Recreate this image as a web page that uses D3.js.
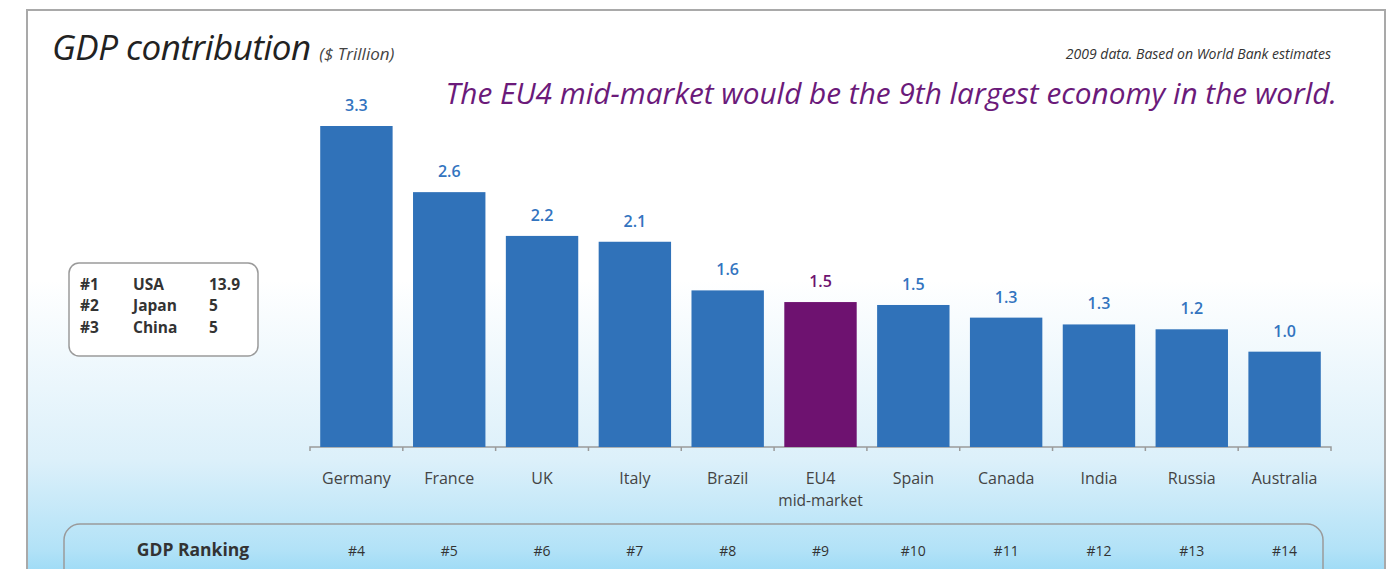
<!DOCTYPE html>
<html>
<head>
<meta charset="utf-8">
<script src="https://cdn.jsdelivr.net/npm/d3@7"></script>
<style>
	body { margin: 0; background: #fff; font-family: "Open Sans", sans-serif; }
	svg { display: block; }
</style>
</head>
<body>
<div id="graphicContainer"></div>
<script>

var countries = ["Germany", "France", "UK", "Italy", "Brazil", "EU4\nmid-market", "Spain", "Canada", "India", "Russia", "Australia"]
var gdp = [3.30, 2.62, 2.17, 2.11, 1.61, 1.49, 1.46, 1.33, 1.26, 1.21, 0.98]
var rankings = ["#4", "#5", "#6", "#7", "#8", "#9", "#10", "#11", "#12", "#13", "#14"]
var topRanks = ["#1", "#2", "#3"]
var topCountries = ["USA", "Japan", "China"]
var topGdp = ["13.9", "5", "5"]

var width = 1396
var height = 569

var svg = d3.select("#graphicContainer").append("svg")
	.attr("width", width)
	.attr("height", height)

var defs = svg.append("defs")
var bg = defs.append("linearGradient")
	.attr("id", "bgGradient")
	.attr("x1", "0%").attr("y1", "0%")
	.attr("x2", "0%").attr("y2", "100%")

bg.append("stop").attr("offset", "0%").attr("stop-color", "#ffffff")
bg.append("stop").attr("offset", "45%").attr("stop-color", "#ffffff")
bg.append("stop").attr("offset", "75%").attr("stop-color", "#dcf0fa")
bg.append("stop").attr("offset", "90%").attr("stop-color", "#b2e2f7")
bg.append("stop").attr("offset", "100%").attr("stop-color", "#7ccff4")

// frame
svg.append("rect")
	.attr("x", 27).attr("y", 10)
	.attr("width", 1358).attr("height", 600)
	.attr("fill", "url(#bgGradient)")
	.attr("stroke", "#a9a9a9")
	.attr("stroke-width", 2)

// titles
var title = svg.append("text")
	.attr("x", 52).attr("y", 60)
	.attr("fill", "#222")
	.style("font-style", "italic")
title.append("tspan").attr("font-size", 35).attr("letter-spacing", -0.5).text("GDP contribution ")
title.append("tspan").attr("font-size", 17).attr("fill", "#444").text("($ Trillion)")

svg.append("text")
	.attr("x", 1331).attr("y", 59)
	.attr("text-anchor", "end")
	.attr("font-size", 14)
	.attr("fill", "#333")
	.style("font-style", "italic")
	.text("2009 data. Based on World Bank estimates")

svg.append("text")
	.attr("x", 1337).attr("y", 104)
	.attr("text-anchor", "end")
	.attr("font-size", 29.8)
	.attr("fill", "#6b1a7a")
	.style("font-style", "italic")
	.text("The EU4 mid-market would be the 9th largest economy in the world.")

// chart
var margin = {left: 310, right: 1331, top: 120, bottom: 447}

var x = d3.scaleBand()
	.domain(countries)
	.range([margin.left, margin.right])
	.paddingInner(0.22)
	.paddingOuter(0.11)

var y = d3.scaleLinear()
	.domain([0, 3.3])
	.range([margin.bottom, 126])

var xAxis = d3.axisBottom(x)
	.tickSize(0)
	.tickFormat("")

var axisG = svg.append("g")
	.attr("transform", "translate(0," + margin.bottom + ")")
	.call(xAxis)

axisG.select(".domain").attr("stroke", "#9a9a9a").attr("stroke-width", 1.5)
	.attr("d", "M" + margin.left + ",4V0H" + margin.right + "V4")

var boundaries = d3.range(1, countries.length).map(i => margin.left + i * (margin.right - margin.left) / countries.length)

axisG.selectAll(".sep")
	.data(boundaries)
	.enter()
	.append("line")
	.attr("x1", d => d).attr("x2", d => d)
	.attr("y1", 0).attr("y2", 4)
	.attr("stroke", "#9a9a9a")
	.attr("stroke-width", 1.5)

svg.selectAll(".bar")
	.data(countries)
	.enter()
	.append("rect")
	.attr("class", "bar")
	.attr("x", d => x(d))
	.attr("width", x.bandwidth())
	.attr("y", (d, i) => y(gdp[i]))
	.attr("height", (d, i) => y(0) - y(gdp[i]))
	.attr("fill", d => d.startsWith("EU4") ? "#6e1270" : "#3072b9")

svg.selectAll(".valueLabel")
	.data(countries)
	.enter()
	.append("text")
	.attr("class", "valueLabel")
	.attr("x", d => x(d) + x.bandwidth() / 2)
	.attr("y", (d, i) => y(gdp[i]) - 15)
	.attr("text-anchor", "middle")
	.attr("font-size", 16)
	.attr("font-weight", 600)
	.attr("fill", (d) => d.startsWith("EU4") ? "#6e1270" : "#3374bf")
	.text((d, i) => d3.format(".1f")(gdp[i]))

// category labels, second line as its own text
countries.forEach(function(c) {
	c.split("\n").forEach(function(line, j) {
		svg.append("text")
			.attr("class", "catLabel")
			.attr("x", x(c) + x.bandwidth() / 2)
			.attr("y", j === 0 ? 484 : 505.5)
			.attr("text-anchor", "middle")
			.attr("font-size", j === 0 ? 16 : 15.5)
			.attr("fill", "#444")
			.text(line)
	})
})

// top 3 box
svg.append("rect")
	.attr("x", 69).attr("y", 263)
	.attr("width", 189).attr("height", 93)
	.attr("rx", 10)
	.attr("fill", "#fff")
	.attr("stroke", "#9a9a9a")
	.attr("stroke-width", 1.5)

var rows = [290, 311, 333]
var topG = svg.append("g")
	.attr("font-size", 15.5)
	.attr("font-weight", "bold")
	.attr("fill", "#333")

topRanks.forEach(function(r, i) {
	topG.append("text").attr("x", 80).attr("y", rows[i]).text(r)
	topG.append("text").attr("x", 133).attr("y", rows[i]).text(topCountries[i])
	topG.append("text").attr("x", 209).attr("y", rows[i]).text(topGdp[i])
})

// ranking row
svg.append("rect")
	.attr("x", 64).attr("y", 524)
	.attr("width", 1259).attr("height", 70)
	.attr("rx", 16)
	.attr("fill", "none")
	.attr("stroke", "#9a9a9a")
	.attr("stroke-width", 1.5)

svg.append("text")
	.attr("x", 193).attr("y", 556)
	.attr("text-anchor", "middle")
	.attr("font-size", 17.5)
	.attr("font-weight", "bold")
	.attr("fill", "#333")
	.text("GDP Ranking")

svg.selectAll(".rankLabel")
	.data(countries)
	.enter()
	.append("text")
	.attr("class", "rankLabel")
	.attr("x", d => x(d) + x.bandwidth() / 2)
	.attr("y", 556)
	.attr("text-anchor", "middle")
	.attr("font-size", 14)
	.attr("fill", "#333")
	.text((d, i) => rankings[i])

</script>
</body>
</html>
